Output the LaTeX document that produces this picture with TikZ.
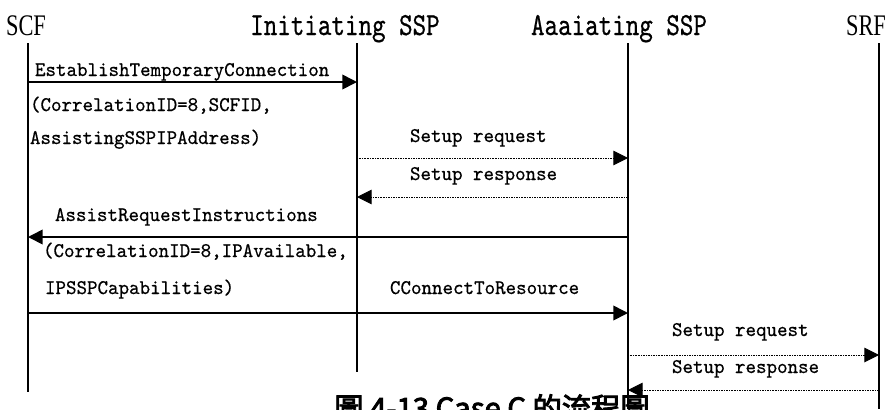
\documentclass[tikz,border=0pt]{standalone}
\usepackage{fontspec}
\setmainfont{Liberation Serif}
\newfontfamily\headfont{Liberation Serif}[FakeStretch=0.75]
\newfontfamily\devfont{lmmono10-regular}[Extension=.otf, FakeStretch=0.8, FakeBold=0.6]
\newfontfamily\msgfont{lmmono10-regular}[Extension=.otf, FakeStretch=0.96, FakeBold=0.5]
\newfontfamily\cjkfont{Noto Sans CJK TC}[FakeBold=3]
\usetikzlibrary{arrows.meta, positioning, calc}

\begin{document}
\begin{tikzpicture}[
    x=0.03cm, y=-0.03cm,
    every node/.style={inner sep=0pt, outer sep=0pt},
    entity/.style={font=\headfont\fontsize{25.5}{28}\selectfont, anchor=base},
    device/.style={font=\devfont\fontsize{27.5}{32}\selectfont, anchor=base},
    label/.style={font=\msgfont\fontsize{17.8}{22}\selectfont, anchor=base west},
    lifeline/.style={draw=black, line width=1.3pt},
    msg/.style={-{Triangle[length=0.44cm, width=0.44cm]}, line width=1.4pt},
    reply/.style={-{Triangle[length=0.44cm, width=0.44cm]}, line width=0.8pt, dash pattern=on 0.7pt off 0.7pt}
  ]
    \useasboundingbox (0,0) rectangle (888,409);

    % Entities
    \node[entity] (scf) at (26,35) {SCF};
    \node[device] (iss) at (345,35) {Initiating SSP};
    \node[device] (ass) at (619,35) {Aaaiating SSP};
    \node[entity] (srf) at (866,35) {SRF};

    % Lifelines
    \coordinate (scf top) at (28,43);   \coordinate (scf bot) at (28,392);
    \coordinate (iss top) at (357,43);  \coordinate (iss bot) at (357,372);
    \coordinate (ass top) at (628,43);  \coordinate (ass bot) at (628,409);
    \coordinate (srf top) at (879,43);  \coordinate (srf bot) at (879,409);
    \draw[lifeline] (scf top) -- (scf bot);
    \draw[lifeline] (iss top) -- (iss bot);
    \draw[lifeline] (ass top) -- (ass bot);
    \draw[lifeline] (srf top) -- (srf bot);

    % Message levels
    \coordinate (etc) at (0,82);
    \coordinate (req1) at (0,158);
    \coordinate (rsp1) at (0,197);
    \coordinate (ari) at (0,237);
    \coordinate (ctr) at (0,313);
    \coordinate (req2) at (0,355);
    \coordinate (rsp2) at (0,390);

    % Labels
    \node[label] (etc lbl) at (35,76) {EstablishTemporaryConnection};
    \node[label] (etc par1) at (30,111) {(CorrelationID=8,SCFID,};
    \node[label] (etc par2) at (30,144) {AssistingSSPIPAddress)};
    \node[label] (req1 lbl) at (410,142) {Setup request};
    \node[label] (rsp1 lbl) at (410,180) {Setup response};
    \node[label] (ari lbl) at (55,221) {AssistRequestInstructions};
    \node[label] (ari par1) at (43,257) {(CorrelationID=8,IPAvailable,};
    \node[label] (ari par2) at (45,294) {IPSSPCapabilities)};
    \node[label] (ctr lbl) at (390,294) {CConnectToResource};
    \node[label] (req2 lbl) at (672,336) {Setup request};
    \node[label] (rsp2 lbl) at (672,373) {Setup response};

    % Connections
    \draw[msg] (scf top |- etc) -- (iss top |- etc);
    \draw[reply] (iss top |- req1) -- (ass top |- req1);
    \draw[reply] (ass top |- rsp1) -- (iss top |- rsp1);
    \draw[msg] (ass top |- ari) -- (scf top |- ari);
    \draw[msg] (scf top |- ctr) -- (ass top |- ctr);
    \draw[reply] (ass top |- req2) -- (srf top |- req2);
    \draw[reply] (srf top |- rsp2) -- (ass top |- rsp2);

    % Caption
    \node[font=\cjkfont\fontsize{25}{30}\selectfont, anchor=base] (caption) at (492,419) {圖 4-13 Case C 的流程圖};
\end{tikzpicture}
\end{document}
